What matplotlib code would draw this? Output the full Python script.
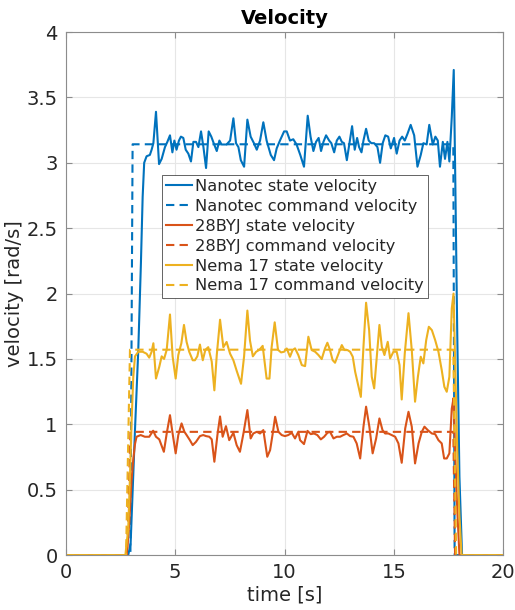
import numpy as np
import matplotlib
matplotlib.use('Agg')
import matplotlib.pyplot as plt

# colours (matlab default order)
c_nano = '#0072BD'
c_byj = '#D95319'
c_nema = '#EDB120'

# Nanotec state velocity (time, value)
t_nano = [0, 2.85, 2.96, 3.16, 3.31, 3.43, 3.51, 3.58, 3.69, 3.84, 3.92, 4.0, 4.12, 4.26, 4.38, 4.53,
          4.64, 4.76, 4.87, 4.96, 5.06, 5.17, 5.26, 5.37, 5.48, 5.6, 5.72, 5.83, 5.95, 6.06, 6.18,
          6.29, 6.41, 6.53, 6.65, 6.76, 6.9, 7.02, 7.12, 7.23, 7.35, 7.51, 7.66, 7.78, 7.89, 8.0,
          8.15, 8.3, 8.45, 8.6, 8.73, 8.88, 9.03, 9.18, 9.37, 9.52, 9.64, 9.79, 9.98, 10.1, 10.25,
          10.4, 10.55, 10.72, 10.89, 11.06, 11.19, 11.32, 11.44, 11.56, 11.67, 11.78, 11.9, 12.04,
          12.14, 12.27, 12.39, 12.51, 12.62, 12.72, 12.85, 12.97, 13.09, 13.21, 13.32, 13.41, 13.52,
          13.61, 13.73, 13.85, 13.97, 14.1, 14.25, 14.37, 14.49, 14.61, 14.74, 14.86, 15.01, 15.13,
          15.26, 15.38, 15.5, 15.62, 15.77, 15.93, 16.08, 16.23, 16.35, 16.5, 16.62, 16.78, 16.9,
          17.01, 17.11, 17.24, 17.34, 17.45, 17.54, 17.65, 17.74, 17.8, 17.9, 18.0, 18.12, 20]
v_nano = [0, 0, 0.09, 0.96, 1.57, 2.23, 2.74, 3.0, 3.05, 3.06, 3.1, 3.15, 3.39, 2.99, 3.03, 3.12,
          3.16, 3.21, 3.08, 3.17, 3.10, 3.17, 3.20, 3.19, 3.10, 3.07, 3.01, 3.16, 3.16, 3.12, 3.24,
          3.12, 2.96, 3.24, 3.20, 3.15, 3.09, 3.17, 3.14, 3.14, 3.14, 3.17, 3.34, 3.15, 3.12, 3.02,
          2.97, 3.33, 3.20, 3.15, 3.10, 3.17, 3.31, 3.17, 3.06, 3.02, 3.11, 3.17, 3.24, 3.24, 3.17,
          3.18, 3.14, 3.06, 2.97, 3.36, 3.20, 3.09, 3.16, 3.19, 3.09, 3.16, 3.21, 3.17,
          3.15, 3.08, 3.17, 3.20, 3.16, 3.15, 3.02, 3.15, 3.28, 3.10, 3.19, 3.12, 3.08,
          3.17, 3.26, 3.17, 3.15, 3.15, 3.12, 3.0, 3.15, 3.21, 3.20, 3.11, 3.19, 3.07,
          3.17, 3.20, 3.17, 3.22, 3.29, 3.21, 2.97, 3.06, 3.15, 3.14, 3.29, 3.14, 3.20,
          3.17, 2.97, 3.16, 3.03, 3.16, 3.01, 3.35, 3.71, 3.0, 1.7, 0.6, 0, 0]

# 28BYJ state velocity
t_byj = [0, 2.78, 2.9, 3.0, 3.08, 3.16, 3.23, 3.42, 3.61, 3.81, 3.99, 4.12, 4.27, 4.48, 4.61, 4.76,
         4.88, 5.02, 5.14, 5.29, 5.42, 5.52, 5.67, 5.8, 5.95, 6.13, 6.28, 6.41, 6.56, 6.67, 6.79,
         6.93, 7.05, 7.17, 7.32, 7.47, 7.66, 7.81, 7.96, 8.12, 8.3, 8.45, 8.57, 8.73, 8.88, 9.03,
         9.21, 9.34, 9.46, 9.57, 9.72, 9.87, 10.02, 10.17, 10.33, 10.48, 10.63, 10.71, 10.89,
         11.05, 11.2, 11.35, 11.5, 11.66, 11.81, 11.96, 12.08, 12.24, 12.39, 12.54, 12.69, 12.85,
         13.0, 13.15, 13.3, 13.46, 13.61, 13.73, 13.88, 14.03, 14.19, 14.34, 14.48, 14.6, 14.75,
         14.9, 15.06, 15.21, 15.36, 15.52, 15.67, 15.82, 15.97, 16.13, 16.28, 16.4, 16.55, 16.74,
         16.89, 17.04, 17.19, 17.3, 17.42, 17.54, 17.65, 17.73, 17.8, 17.9, 18.0, 20]
v_byj = [0, 0, 0.25, 0.57, 0.73, 0.85, 0.905, 0.918, 0.905, 0.905, 0.951, 0.905, 0.885, 0.79, 0.93, 1.07,
         0.93, 0.778, 0.918, 1.007, 0.943, 0.918, 0.879, 0.841, 0.866, 0.91, 0.918, 0.91, 0.905, 0.885, 0.714,
         0.918, 1.06, 0.905, 0.986, 0.879, 0.935, 0.841, 0.79, 0.93, 1.109, 0.892, 0.93, 0.943, 0.93, 0.956,
         0.752, 0.803, 0.93, 1.058, 0.943, 0.918, 0.91, 0.918, 0.935, 0.892, 0.943, 0.879, 0.849,
         0.95, 0.925, 0.93, 0.918, 0.885, 0.905, 0.935, 0.943, 0.892, 0.905, 0.905, 0.918, 0.93,
         0.91, 0.905, 0.854, 0.739, 0.982, 1.135, 0.982, 0.778, 0.892, 1.045, 0.956, 0.93, 0.93,
         0.918, 0.905, 0.854, 0.706, 0.969, 1.096, 0.982, 0.701, 0.854, 0.943, 0.982, 0.956, 0.93,
         0.925, 0.879, 0.854, 0.739, 0.739, 0.778, 1.12, 1.2, 0.8, 0.35, 0, 0]

# Nema 17 state velocity
t_nema = [0, 2.72, 2.85, 2.93, 3.0, 3.08, 3.16, 3.31, 3.51, 3.69, 3.81, 3.92, 4.0, 4.12, 4.27, 4.38,
          4.49, 4.61, 4.76, 4.88, 5.02, 5.14, 5.28, 5.4, 5.52, 5.64, 5.8, 5.9, 6.01, 6.13, 6.26,
          6.38, 6.51, 6.67, 6.79, 6.9, 7.05, 7.2, 7.35, 7.51, 7.66, 7.81, 8.01, 8.15, 8.3, 8.42,
          8.55, 8.7, 8.85, 9.0, 9.18, 9.31, 9.41, 9.55, 9.7, 9.84, 9.98, 10.1, 10.25, 10.37, 10.48,
          10.63, 10.79, 10.94, 11.09, 11.24, 11.4, 11.55, 11.7, 11.85, 11.96, 12.08, 12.2, 12.31,
          12.46, 12.62, 12.74, 12.88, 13.0, 13.12, 13.23, 13.35, 13.49, 13.61, 13.73, 13.87, 13.99,
          14.1, 14.22, 14.34, 14.45, 14.57, 14.72, 14.83, 14.98, 15.13, 15.26, 15.36, 15.5, 15.67,
          15.82, 15.97, 16.1, 16.23, 16.35, 16.48, 16.6, 16.74, 16.89, 17.04, 17.19, 17.31, 17.42,
          17.54, 17.65, 17.73, 17.8, 17.9, 18.0, 18.1, 20]
v_nema = [0, 0, 0.2, 0.6, 1.0, 1.36, 1.52, 1.555, 1.555, 1.54, 1.51, 1.555, 1.62, 1.35, 1.44, 1.52,
          1.50, 1.57, 1.84, 1.52, 1.35, 1.53, 1.62, 1.76, 1.63, 1.555, 1.49, 1.49, 1.52, 1.61, 1.49,
          1.57, 1.59, 1.48, 1.26, 1.53, 1.80, 1.59, 1.63, 1.54, 1.49, 1.41, 1.31, 1.52, 1.87, 1.64,
          1.52, 1.555, 1.57, 1.60, 1.35, 1.35, 1.59, 1.78, 1.57, 1.55, 1.555, 1.58, 1.517, 1.568, 1.581,
          1.53, 1.453, 1.445, 1.67, 1.568, 1.555, 1.53, 1.499, 1.581, 1.624, 1.568, 1.491, 1.471,
          1.537, 1.606, 1.568, 1.568, 1.555, 1.517, 1.402, 1.313, 1.21, 1.593, 1.93, 1.72, 1.364,
          1.275, 1.517, 1.76, 1.593, 1.53, 1.631, 1.504, 1.555, 1.555, 1.453, 1.19, 1.543, 1.85,
          1.568, 1.173, 1.364, 1.517, 1.466, 1.644, 1.746, 1.72, 1.644, 1.555, 1.415, 1.287, 1.249,
          1.364, 1.886, 2.0, 1.5, 0.8, 0.3, 0, 0]

# command velocities
tc_nano = [0, 2.95, 3.05, 17.72, 17.78, 20]
vc_nano = [0, 0, 3.1416, 3.1416, 0, 0]
tc_byj = [0, 2.8, 2.95, 17.72, 17.8, 20]
vc_byj = [0, 0, 0.9425, 0.9425, 0, 0]
tc_nema = [0, 2.75, 2.93, 17.72, 17.85, 20]
vc_nema = [0, 0, 1.5708, 1.5708, 0, 0]

labels = ['Nanotec state velocity', 'Nanotec command velocity',
          '28BYJ state velocity', '28BYJ command velocity',
          'Nema 17 state velocity', 'Nema 17 command velocity']

plt.rcParams['font.family'] = ['DejaVu Sans']
fig = plt.figure(figsize=(5.15, 6.10), dpi=100)
ax = fig.add_axes([0.128, 0.090, 0.849, 0.8575])

lw = 1.5
ax.plot(t_nano, v_nano, color=c_nano, lw=lw, label=labels[0])
ax.plot(tc_nano, vc_nano, color=c_nano, lw=lw, ls=(0, (4, 2.5)), label=labels[1])
ax.plot(t_byj, v_byj, color=c_byj, lw=lw, label=labels[2])
ax.plot(tc_byj, vc_byj, color=c_byj, lw=lw, ls=(0, (4, 2.5)), label=labels[3])
ax.plot(t_nema, v_nema, color=c_nema, lw=lw, label=labels[4])
ax.plot(tc_nema, vc_nema, color=c_nema, lw=lw, ls=(0, (4, 2.5)), label=labels[5])

ax.set_xlim(0, 20)
ax.set_ylim(0, 4)
ax.set_xticks([0, 5, 10, 15, 20])
ax.set_yticks([0, 0.5, 1, 1.5, 2, 2.5, 3, 3.5, 4])
ax.set_yticklabels(['0', '0.5', '1', '1.5', '2', '2.5', '3', '3.5', '4'])
ax.grid(True, color='#e6e6e6', lw=0.8)
ax.set_axisbelow(True)
for s in ax.spines.values():
    s.set_color('#8c8c8c')
    s.set_linewidth(0.8)
ax.tick_params(direction='in', length=4, width=0.8, color='#8c8c8c', labelsize=14,
               labelcolor='#262626', top=True, right=True, pad=6)

ax.set_title('Velocity', fontsize=14, fontweight='bold', pad=6)
ax.set_xlabel('time [s]', fontsize=14, color='#262626', labelpad=2)
ax.set_ylabel('velocity [rad/s]', fontsize=14, color='#262626', labelpad=2)

leg = ax.legend(loc='upper left', bbox_to_anchor=(0.2197, 0.7266), borderaxespad=0,
                fontsize=11.7, handlelength=1.6, handletextpad=0.2, labelspacing=0.3,
                borderpad=0.25, fancybox=False, framealpha=1, edgecolor='#262626')
leg.get_frame().set_linewidth(0.5)
for txt in leg.get_texts():
    txt.set_color('#262626')

fig.savefig('out.png', dpi=100)
